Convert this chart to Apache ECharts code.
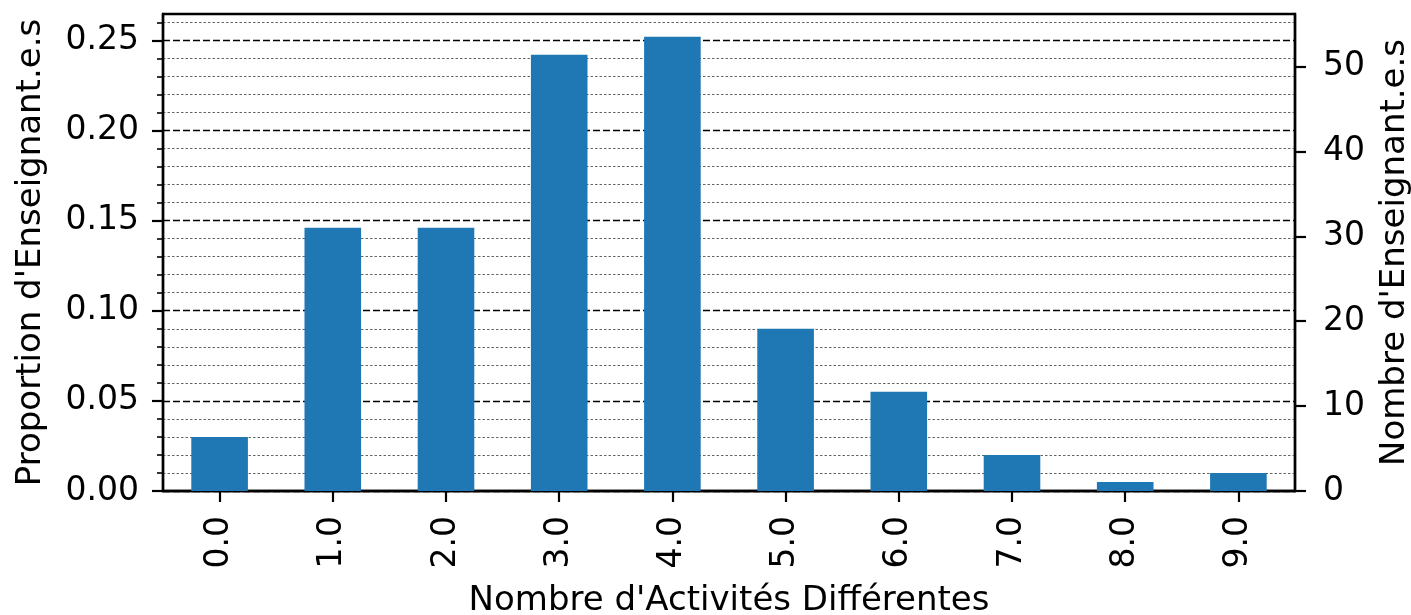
<!DOCTYPE html>
<html>
<head>
<meta charset="utf-8">
<script src="https://cdn.jsdelivr.net/npm/echarts@6/dist/echarts.min.js"></script>
<style>
  html, body { margin: 0; padding: 0; background: #ffffff; }
  #chart { width: 1411px; height: 615px; }
</style>
</head>
<body>
<div id="chart"></div>
<script>
// Number of distinct activities per teacher
const categories = ['0.0', '1.0', '2.0', '3.0', '4.0', '5.0', '6.0', '7.0', '8.0', '9.0'];
const proportions = [0.030, 0.146, 0.146, 0.242, 0.252, 0.090, 0.055, 0.020, 0.005, 0.010];

// Axis ranges and tick positions
const proportionMax = 0.2646;
const countMax = 56.2;
const proportionTicks = [0, 0.05, 0.10, 0.15, 0.20, 0.25];
const proportionMinorTicks = [0.01, 0.02, 0.03, 0.04, 0.06, 0.07, 0.08, 0.09, 0.11, 0.12, 0.13, 0.14,
  0.16, 0.17, 0.18, 0.19, 0.21, 0.22, 0.23, 0.24, 0.26];
const countTicks = [0, 10, 20, 30, 40, 50];

const FONT = 'DejaVu Sans';
const FS = 33;
const NAME_FS = 34;

const chart = echarts.init(document.getElementById('chart'), null, { renderer: 'canvas' });

chart.setOption({
  animation: false,
  backgroundColor: '#ffffff',
  textStyle: { fontFamily: FONT, color: '#000' },
  grid: {
    left: 163, right: 116, top: 14, bottom: 124,
    containLabel: false,
    outerBoundsMode: 'none',
    show: true, borderColor: '#000', borderWidth: 2.4, backgroundColor: 'transparent'
  },
  xAxis: {
    type: 'category',
    data: categories,
    boundaryGap: true,
    name: "Nombre d'Activités Différentes",
    nameLocation: 'middle',
    nameGap: 93,
    nameTextStyle: { fontFamily: FONT, fontSize: NAME_FS, color: '#000' },
    axisLine: { show: true, lineStyle: { color: '#000', width: 2.4 } },
    axisTick: { show: true, alignWithLabel: true, length: 11, lineStyle: { color: '#000', width: 2.2 } },
    axisLabel: { rotate: 90, fontFamily: FONT, fontSize: FS, color: '#000', margin: 25 },
    splitLine: { show: false }
  },
  yAxis: [
    {
      type: 'value',
      position: 'left',
      min: 0, max: proportionMax, interval: 0.05,
      name: "Proportion d'Enseignant.e.s",
      nameLocation: 'middle',
      nameGap: 115,
      nameTextStyle: { fontFamily: FONT, fontSize: NAME_FS, color: '#000' },
      axisLine: { show: true, lineStyle: { color: '#000', width: 2.4 } },
      axisTick: { show: true, length: 11, customValues: proportionTicks, lineStyle: { color: '#000', width: 2.2 } },
      axisLabel: {
        customValues: proportionTicks,
        formatter: v => v.toFixed(2),
        fontFamily: FONT, fontSize: FS, color: '#000', margin: 24
      },
      splitLine: { show: true, lineStyle: { color: '#000', width: 1.4, type: [7, 3] } }
    },
    {
      // minor grid lines and minor ticks of the proportion scale
      type: 'value',
      position: 'left',
      min: 0, max: proportionMax, interval: 0.01,
      axisLine: { show: false },
      axisTick: { show: true, length: 6, customValues: proportionMinorTicks, lineStyle: { color: '#000', width: 1.6 } },
      axisLabel: { show: false, customValues: proportionMinorTicks },
      splitLine: { show: true, lineStyle: { color: '#666', width: 1, type: [2.5, 2] } }
    },
    {
      type: 'value',
      position: 'right',
      min: 0, max: countMax, interval: 10,
      name: "Nombre d'Enseignant.e.s",
      nameLocation: 'middle',
      nameRotate: 90,
      nameGap: 83,
      nameTextStyle: { fontFamily: FONT, fontSize: NAME_FS, color: '#000' },
      axisLine: { show: true, lineStyle: { color: '#000', width: 2.4 } },
      axisTick: { show: true, length: 11, customValues: countTicks, lineStyle: { color: '#000', width: 2.2 } },
      axisLabel: { customValues: countTicks, fontFamily: FONT, fontSize: FS, color: '#000', margin: 28 },
      splitLine: { show: false }
    }
  ],
  series: [
    {
      type: 'bar',
      yAxisIndex: 0,
      data: proportions,
      barWidth: '50%',
      itemStyle: { color: '#1f77b4' },
      z: 3
    }
  ]
});
</script>
</body>
</html>
